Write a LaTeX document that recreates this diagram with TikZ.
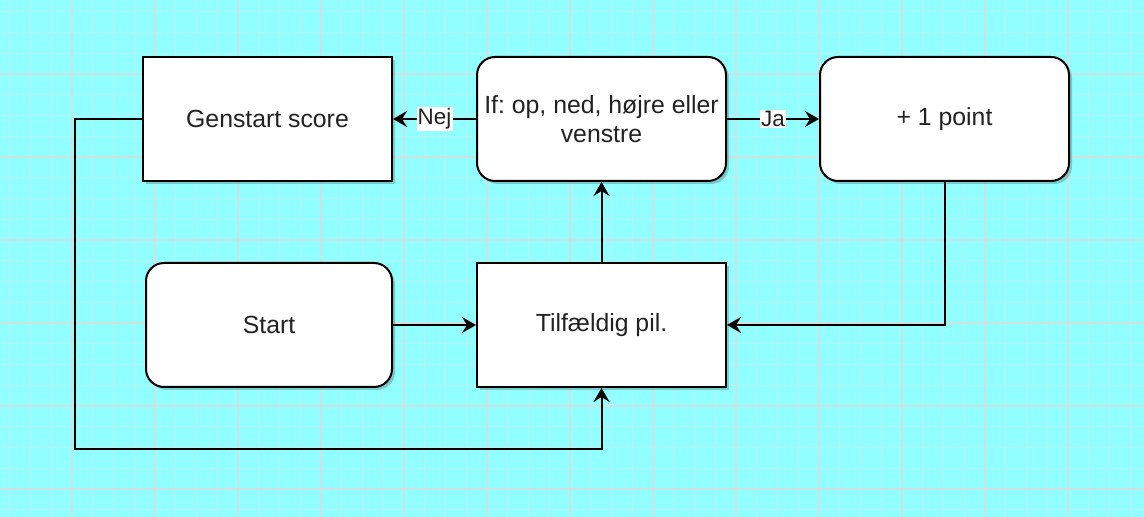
\documentclass[tikz,border=0pt]{standalone}
\usepackage{fontspec}
\setmainfont{Liberation Sans}
\usetikzlibrary{arrows.meta,shadows}
\definecolor{BackClr}{RGB}{145,255,255}
\definecolor{MinorClr}{RGB}{182,242,242}
\definecolor{MajorClr}{RGB}{206,226,226}
\definecolor{TextClr}{RGB}{34,34,34}

\begin{document}
\frenchspacing
\begin{tikzpicture}[x=0.5pt,y=-0.5pt,
  box/.style={draw=black,line width=1pt,fill=white,minimum width=124.5pt,minimum height=62pt,
    inner sep=2pt,align=center,text=TextClr,font=\fontsize{12.4}{14.5}\selectfont,
    drop shadow={shadow xshift=1.5pt,shadow yshift=-1.5pt,opacity=0.2,fill=black}},
  roundbox/.style={box,rounded corners=9pt},
  conn/.style={line width=1pt,-{Stealth[length=7pt,width=8pt,inset=2.5pt]}},
  lbl/.style={fill=white,inner sep=0.6pt,text=TextClr,font=\fontsize{11.2}{13}\selectfont}]

\useasboundingbox (0,0) rectangle (1144,517);
\fill[BackClr] (0,0) rectangle (1144,517);
\begin{scope}
\clip (0,0) rectangle (1144,517);
\foreach \k in {-3,...,51} \draw[MinorClr,line width=0.45pt] ({72+20.75*\k},0) -- ({72+20.75*\k},517);
\foreach \k in {-3,...,21} \draw[MinorClr,line width=0.45pt] (0,{74+20.75*\k}) -- (1144,{74+20.75*\k});
\foreach \k in {0,...,13} \draw[MajorClr,line width=0.6pt] ({72+83*\k},0) -- ({72+83*\k},517);
\foreach \k in {0,...,5} \draw[MajorClr,line width=0.6pt] (0,{74+83*\k}) -- (1144,{74+83*\k});
\end{scope}

\node[box] (genstart) at (267.5,119) {Genstart score};
\node[roundbox] (ifbox) at (601.5,119) {If: op, ned, højre eller\\venstre};
\node[roundbox] (point) at (944.5,119) {+ 1 point};
\node[roundbox,minimum width=123pt] (start) at (269,325) {Start};
\node[box] (tilf) at (601.5,325) {Tilfældig pil.};

\coordinate (loop) at (75,449);

\draw[conn] (ifbox.west) -- node[lbl] {Nej} (genstart.east);
\draw[conn] (ifbox.east) -- node[lbl] {Ja} (point.west);
\draw[conn] (start.east) -- (tilf.west);
\draw[conn] (tilf.north) -- (ifbox.south);
\draw[conn] (point.south) |- (tilf.east);
\draw[conn] (genstart.west) -| (loop) -| (tilf.south);

\end{tikzpicture}
\end{document}
